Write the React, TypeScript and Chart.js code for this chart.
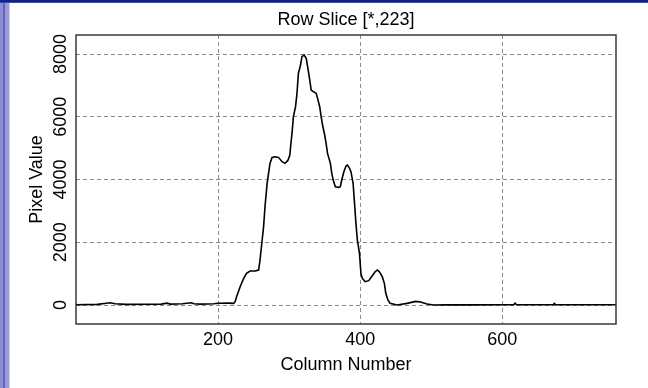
import React, { useEffect, useRef } from "react";
import { Chart, registerables } from "chart.js";

Chart.register(...registerables);

// Row slice profile: column number -> pixel value
const columnNumbers = [
  0, 30, 40, 48, 55, 70, 100, 120, 128, 133, 150, 162, 166, 175, 194, 200, 215, 222,
  224, 226, 231, 236, 240, 245, 252, 257, 259, 262, 264, 266, 269, 271, 273, 276, 280,
  285, 290, 294, 298, 301, 302, 304, 306, 309, 311, 313, 316, 318, 321, 324, 326, 329,
  331, 334, 338, 340, 343, 345, 347, 350, 352, 354, 358, 360, 362, 365, 370, 372, 374,
  377, 380, 382, 385, 387, 390, 392, 394, 396, 399, 401, 403, 407, 412, 416, 421, 424,
  427, 431, 434, 436, 439, 442, 452, 466, 478, 485, 494, 503, 520, 560, 600, 616, 618,
  620, 660, 672, 673, 675, 720, 760,
];

const pixelValues = [
  10, 20, 50, 70, 40, 20, 25, 30, 60, 30, 40, 70, 40, 30, 40, 55, 60, 53,
  106, 266, 584, 850, 1009, 1084, 1084, 1116, 1434, 2071, 2496, 3134, 3877, 4196, 4515, 4706, 4727,
  4706, 4568, 4515, 4600, 4780, 5046, 5471, 6002, 6321, 6746, 7383, 7649, 7915, 7968, 7862, 7596, 7171,
  6852, 6799, 6746, 6587, 6321, 6002, 5737, 5418, 5152, 4833, 4515, 4196, 3983, 3771, 3750, 3771, 3983,
  4249, 4430, 4462, 4355, 4249, 3877, 3240, 2603, 2071, 1647, 1009, 850, 744, 776, 903, 1062, 1116,
  1062, 903, 691, 372, 159, 53, 0, 53, 117, 96, 32, 0, 10, 5, 10, 10, 60,
  10, 10, 10, 50, 10, 10, 10,
];

const xTickValues = [200, 400, 600];
const yTickValues = [0, 2000, 4000, 6000, 8000];
const xRange = [0, 760];
const yRange = [-605, 8606];

const titleText = "Row Slice [*,223]";
const xTitleText = "Column Number";
const yTitleText = "Pixel Value";

const FONT = "'Liberation Sans', Arial, sans-serif";
const FONT_SIZE = 18;

// Closed box around the plotting area
const plotFrame = {
  id: "plotFrame",
  afterDraw(chart: any) {
    const { ctx, chartArea: a } = chart;
    ctx.save();
    ctx.strokeStyle = "#3a3a3a";
    ctx.lineWidth = 1.5;
    ctx.strokeRect(a.left, a.top, a.right - a.left, a.bottom - a.top);
    ctx.restore();
  },
};

// Title centred over the plotting area
const plotTitle = {
  id: "plotTitle",
  afterDraw(chart: any) {
    const { ctx, chartArea: a } = chart;
    ctx.save();
    ctx.font = `${FONT_SIZE}px ${FONT}`;
    ctx.fillStyle = "#000";
    ctx.textAlign = "center";
    ctx.textBaseline = "middle";
    ctx.fillText(titleText, (a.left + a.right) / 2, 20);
    ctx.restore();
  },
};

export default function App() {
  const canvasRef = useRef<HTMLCanvasElement | null>(null);

  useEffect(() => {
    const canvas = canvasRef.current;
    if (!canvas) return;
    const font = { family: FONT, size: FONT_SIZE };
    const chart = new Chart(canvas, {
      type: "line",
      data: {
        datasets: [
          {
            data: columnNumbers.map((c, i) => ({ x: c, y: pixelValues[i] })),
            borderColor: "#000000",
            borderWidth: 1.6,
            pointRadius: 0,
            tension: 0,
            fill: false,
          },
        ],
      },
      options: {
        responsive: false,
        animation: false,
        events: [],
        layout: { padding: { top: 35, right: 32, left: 0, bottom: 0 } },
        plugins: {
          legend: { display: false },
          tooltip: { enabled: false },
          title: { display: false },
        },
        scales: {
          x: {
            type: "linear",
            min: xRange[0],
            max: xRange[1],
            afterBuildTicks: (s: any) => {
              s.ticks = xTickValues.map((v) => ({ value: v }));
            },
            afterFit: (s: any) => {
              s.height = 64;
            },
            grid: { color: "#8a8a8a", lineWidth: 1, drawTicks: false },
            border: { display: false, dash: [4, 3] },
            ticks: {
              autoSkip: false,
              maxRotation: 0,
              padding: 5,
              color: "#000",
              font,
              callback: (v: any) => `${v}`,
            },
            title: {
              display: true,
              text: xTitleText,
              color: "#000",
              font,
              padding: { top: 0, bottom: 12 },
            },
          },
          y: {
            type: "linear",
            min: yRange[0],
            max: yRange[1],
            afterBuildTicks: (s: any) => {
              s.ticks = yTickValues.map((v) => ({ value: v }));
            },
            afterFit: (s: any) => {
              s.width = 76;
            },
            grid: { color: "#8a8a8a", lineWidth: 1, drawTicks: false },
            border: { display: false, dash: [4, 3] },
            ticks: {
              autoSkip: false,
              minRotation: 90,
              maxRotation: 90,
              crossAlign: "center",
              padding: -5,
              color: "#000",
              font,
              callback: (v: any) => `${v}`,
            },
            title: {
              display: true,
              text: yTitleText,
              color: "#000",
              font,
              padding: { top: 26, bottom: 0 },
            },
          },
        },
      },
      plugins: [plotFrame, plotTitle],
    });
    return () => chart.destroy();
  }, []);

  return (
    <div
      style={{
        position: "fixed",
        left: 0,
        top: 0,
        width: 648,
        height: 388,
        background: "#ffffff",
        overflow: "hidden",
      }}
    >
      <div
        style={{
          position: "absolute",
          left: 0,
          top: 0,
          width: 10,
          height: 388,
          background:
            "linear-gradient(to right, #8e8ed6 0px, #8e8ed6 3px, #6464b4 3px, #6464b4 5px, #9a9ade 5px, #9a9ade 9px, #d0d0ea 9px, #d0d0ea 10px)",
        }}
      />
      <div
        style={{
          position: "absolute",
          left: 0,
          top: 0,
          width: 648,
          height: 3,
          background: "linear-gradient(to bottom, #0c2488 0px, #0c2488 2px, #3050b0 2px, #3050b0 3px)",
        }}
      />
      <canvas
        ref={canvasRef}
        width={648}
        height={388}
        style={{ position: "absolute", left: 0, top: 0, width: 648, height: 388 }}
      />
    </div>
  );
}
